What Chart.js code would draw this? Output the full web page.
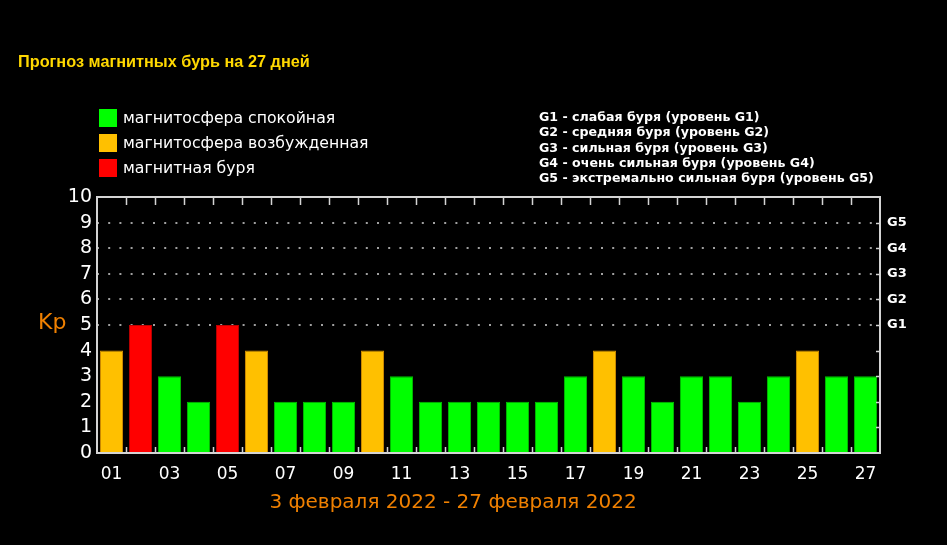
<!DOCTYPE html>
<html>
<head>
<meta charset="utf-8">
<script src="https://cdn.jsdelivr.net/npm/chart.js@4.4.1/dist/chart.umd.min.js"></script>
<style>
    body { margin: 0; background: #000; width: 947px; height: 545px; overflow: hidden; position: relative; }
    #kpChart { position: absolute; left: 0; top: 0; }
    .txt { position: absolute; white-space: nowrap; }
    #title { left: 18px; top: 52px; font: bold 16.3px "Liberation Sans", Arial, sans-serif; color: #ffd800; }
    #legend { left: 99px; top: 109px; }
    .leg-row { height: 25px; display: flex; align-items: flex-start; }
    .leg-box { width: 18px; height: 18px; margin-right: 6px; }
    .leg-text { font: 15.7px "DejaVu Sans", Verdana, sans-serif; color: #fff; line-height: 18px; }
    #glegend { left: 539px; top: 109px; font: bold 12.6px "DejaVu Sans", Tahoma, sans-serif; color: #fff; line-height: 15.3px; }
    #kp { left: 38px; top: 309px; font: 22px "DejaVu Sans", Verdana, sans-serif; color: #f08000; }
    #period { left: 0; width: 906px; text-align: center; top: 489px; font: 20px "DejaVu Sans", Verdana, sans-serif; color: #f08000; }
</style>
</head>
<body>
<canvas id="kpChart" width="947" height="545"></canvas>
<div class="txt" id="title"></div>
<div class="txt" id="legend"></div>
<div class="txt" id="glegend"></div>
<div class="txt" id="kp">Kp</div>
<div class="txt" id="period"></div>

<script>
const titleText = 'Прогноз магнитных бурь на 27 дней';
const periodText = '3 февраля 2022 - 27 февраля 2022';
const days = ['01', '02', '03', '04', '05', '06', '07', '08', '09', '10', '11', '12', '13', '14',
    '15', '16', '17', '18', '19', '20', '21', '22', '23', '24', '25', '26', '27'];
const kpValues = [4, 5, 3, 2, 5, 4, 2, 2, 2, 4, 3, 2, 2, 2, 2, 2, 3, 4, 3, 2, 3, 3, 2, 3, 4, 3, 3];
const stateLabels = ['магнитосфера спокойная', 'магнитосфера возбужденная', 'магнитная буря'];
const stateColors = ['#00ff00', '#ffc000', '#ff0000'];
const stateBorders = ['#00c000', '#d89000', '#c00000'];
const stormLevels = ['G1', 'G2', 'G3', 'G4', 'G5'];
const stormNames = ['слабая буря', 'средняя буря', 'сильная буря', 'очень сильная буря', 'экстремально сильная буря'];

// 0 - спокойная, 1 - возбужденная, 2 - буря
function stateOf(v) {
    if (v >= 5) return 2;
    if (v >= 4) return 1;
    return 0;
}

document.getElementById('title').textContent = titleText;
document.getElementById('period').textContent = periodText;

var legendHtml = '';
stateLabels.forEach(function (label, i) {
    legendHtml += '<div class="leg-row"><div class="leg-box" style="background:' + stateColors[i] + '"></div>' +
        '<div class="leg-text">' + label + '</div></div>';
});
document.getElementById('legend').innerHTML = legendHtml;

document.getElementById('glegend').innerHTML = stormLevels.map(function (g, i) {
    return g + ' - ' + stormNames[i] + ' (уровень ' + g + ')';
}).join('<br>');

// рамка и засечки как на оригинале
const framePlugin = {
    id: 'frame',
    afterDatasetsDraw: function (chart) {
        var ctx = chart.ctx;
        var a = chart.chartArea;
        var x = chart.scales.x;
        var y = chart.scales.y;
        ctx.save();
        ctx.strokeStyle = '#d4d4d4';
        ctx.lineWidth = 2;
        ctx.strokeRect(a.left, a.top, a.right - a.left, a.bottom - a.top);

        ctx.lineWidth = 1.5;
        ctx.beginPath();
        for (var i = 0; i < days.length - 1; i++) {
            var bx = Math.round((x.getPixelForValue(i) + x.getPixelForValue(i + 1)) / 2) + 0.5;
            ctx.moveTo(bx, a.top);
            ctx.lineTo(bx, a.top + 8);
            ctx.moveTo(bx, a.bottom);
            ctx.lineTo(bx, a.bottom - 6);
        }
        for (var v = 1; v <= 9; v++) {
            var py = Math.round(y.getPixelForValue(v)) + 0.5;
            ctx.moveTo(a.right, py);
            ctx.lineTo(a.right - 4, py);
        }
        ctx.stroke();
        ctx.restore();
    }
};

var ctx = document.getElementById('kpChart').getContext('2d');

new Chart(ctx, {
    type: 'bar',
    data: {
        labels: days,
        datasets: [{
            data: kpValues,
            backgroundColor: kpValues.map(function (v) { return stateColors[stateOf(v)]; }),
            borderColor: kpValues.map(function (v) { return stateBorders[stateOf(v)]; }),
            borderWidth: 1,
            barPercentage: 0.8,
            categoryPercentage: 1.0,
            yAxisID: 'y'
        }]
    },
    options: {
        responsive: false,
        maintainAspectRatio: false,
        animation: false,
        layout: { padding: { top: 197, left: 0, right: 0, bottom: 0 } },
        plugins: {
            legend: { display: false },
            tooltip: { enabled: false }
        },
        scales: {
            x: {
                grid: { display: false },
                border: { display: false },
                afterFit: function (s) { s.height = 92; },
                ticks: {
                    autoSkip: false,
                    maxRotation: 0,
                    padding: 3,
                    color: '#ffffff',
                    font: { family: 'DejaVu Sans', size: 17 },
                    callback: function (val, idx) {
                        return idx % 2 === 0 ? days[idx] : '';
                    }
                }
            },
            y: {
                position: 'left',
                min: 0,
                max: 10,
                afterFit: function (s) { s.width = 97; },
                border: { display: false, dash: [2, 9.2] },
                grid: {
                    drawTicks: false,
                    lineWidth: 2,
                    color: function (c) {
                        var v = c.tick.value;
                        return (v >= 5 && v <= 9) ? '#a0a0a0' : 'transparent';
                    }
                },
                ticks: {
                    stepSize: 1,
                    autoSkip: false,
                    padding: 5,
                    color: '#ffffff',
                    font: { family: 'DejaVu Sans', size: 19 }
                }
            },
            yG: {
                position: 'right',
                min: 0,
                max: 10,
                afterFit: function (s) { s.width = 67; },
                border: { display: false },
                grid: { display: false, drawTicks: false },
                ticks: {
                    stepSize: 1,
                    autoSkip: false,
                    padding: 7,
                    color: '#ffffff',
                    font: { family: 'DejaVu Sans', size: 13, weight: 'bold' },
                    callback: function (v) {
                        return (v >= 5 && v <= 9) ? stormLevels[v - 5] : '';
                    }
                }
            }
        }
    },
    plugins: [framePlugin]
});
</script>
</body>
</html>
